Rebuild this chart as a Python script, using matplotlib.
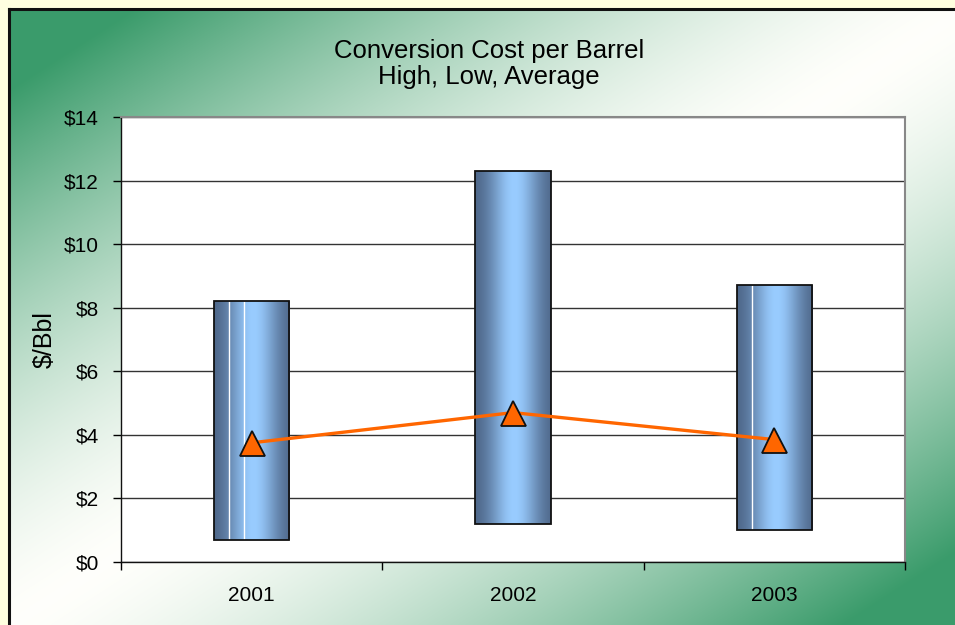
import numpy as np
import matplotlib
matplotlib.use("Agg")
import matplotlib.pyplot as plt
from matplotlib.ticker import FuncFormatter

plt.rcParams['font.family'] = ['Liberation Sans', 'DejaVu Sans']

years = ['2001', '2002', '2003']
high = [8.2, 12.3, 8.7]
low = [0.7, 1.2, 1.0]
average = [3.75, 4.7, 3.85]

fig = plt.figure(figsize=(9.55, 6.25), dpi=100)
fig.patch.set_facecolor('#ffffe0')

# diagonal green/white slide background
bg = fig.add_axes([9 / 955, 0, 1, 1 - 9 / 625])
h, w = 400, 600
yy, xx = np.mgrid[0:h, 0:w]
d = np.abs(xx / w + yy / h - 1.0)
f = np.clip(d * 1.15, 0, 1) ** 1.5
green = np.array([0.23, 0.61, 0.42])
white = np.array([1.0, 1.0, 0.985])
img = white[None, None, :] * (1 - f[..., None]) + green[None, None, :] * f[..., None]
bg.imshow(img, aspect='auto', extent=[0, 1, 0, 1], interpolation='bilinear')
bg.set_xlim(0, 1)
bg.set_ylim(0, 1)
bg.set_xticks([])
bg.set_yticks([])
for side in ['right', 'bottom']:
    bg.spines[side].set_visible(False)
for side in ['top', 'left']:
    bg.spines[side].set_linewidth(2.2)
    bg.spines[side].set_color('#111111')

ax = fig.add_axes([121 / 955, 1 - 562 / 625, 784 / 955, 445 / 625])
ax.set_facecolor('white')
x = np.arange(len(years))
width = 0.287

# cylinder shading for the high-low bars
cyl = np.linspace(0, 1, 256)
shade = np.exp(-((cyl - 0.52) / 0.33) ** 2)
dark = np.array([0.28, 0.37, 0.50])
light = np.array([0.60, 0.80, 1.0])
cyl_img = dark[None, :] * (1 - shade[:, None]) + light[None, :] * shade[:, None]
cyl_img = cyl_img[None, :, :]

bars = ax.bar(x, np.array(high) - np.array(low), bottom=low, width=width,
              color='none', edgecolor='#111111', linewidth=1.3, zorder=3)
for b in bars:
    bx, by = b.get_x(), b.get_y()
    im = ax.imshow(cyl_img, aspect='auto', interpolation='bilinear',
                   extent=[bx, bx + b.get_width(), by, by + b.get_height()],
                   zorder=2)
    im.set_clip_path(b)

# thin white highlight streaks on the first and last bars
for i, offs in [(0, [-0.086, -0.029]), (2, [-0.084])]:
    for o in offs:
        ax.vlines(x[i] + o, low[i], high[i], color='white', linewidth=1.0, zorder=2.5)

ax.plot(x, average, color='#ff6600', linewidth=2.4, marker='^', markersize=18,
        markerfacecolor='#ff6600', markeredgecolor='#111111', markeredgewidth=1.3,
        zorder=4)

ax.set_xlim(-0.5, 2.5)
ax.set_ylim(0, 14)
ax.set_yticks(np.arange(0, 15, 2))
ax.yaxis.set_major_formatter(FuncFormatter(lambda v, p: '$%d' % v))
ax.set_xticks(x)
ax.set_xticklabels(years)
ax.set_xticks([-0.5, 0.5, 1.5, 2.5], minor=True)
ax.tick_params(axis='x', which='major', length=0, pad=17, labelsize=15)
ax.tick_params(axis='x', which='minor', length=6, width=1, direction='out')
ax.tick_params(axis='y', length=6, width=1, direction='out', pad=10, labelsize=15)
ax.grid(axis='y', color='#333333', linewidth=1.0, zorder=0)
ax.set_axisbelow(True)
for side in ['top', 'right']:
    ax.spines[side].set_color('#888888')
    ax.spines[side].set_linewidth(1.5)
for side in ['left', 'bottom']:
    ax.spines[side].set_color('#111111')
    ax.spines[side].set_linewidth(1.0)

ax.set_ylabel('$/Bbl', fontsize=18, labelpad=5)
fig.text(489 / 955, 1 - 58 / 625, 'Conversion Cost per Barrel',
         ha='center', va='baseline', fontsize=18.5)
fig.text(489 / 955, 1 - 84 / 625, 'High, Low, Average',
         ha='center', va='baseline', fontsize=18.5)

fig.savefig('out.png', dpi=100)
